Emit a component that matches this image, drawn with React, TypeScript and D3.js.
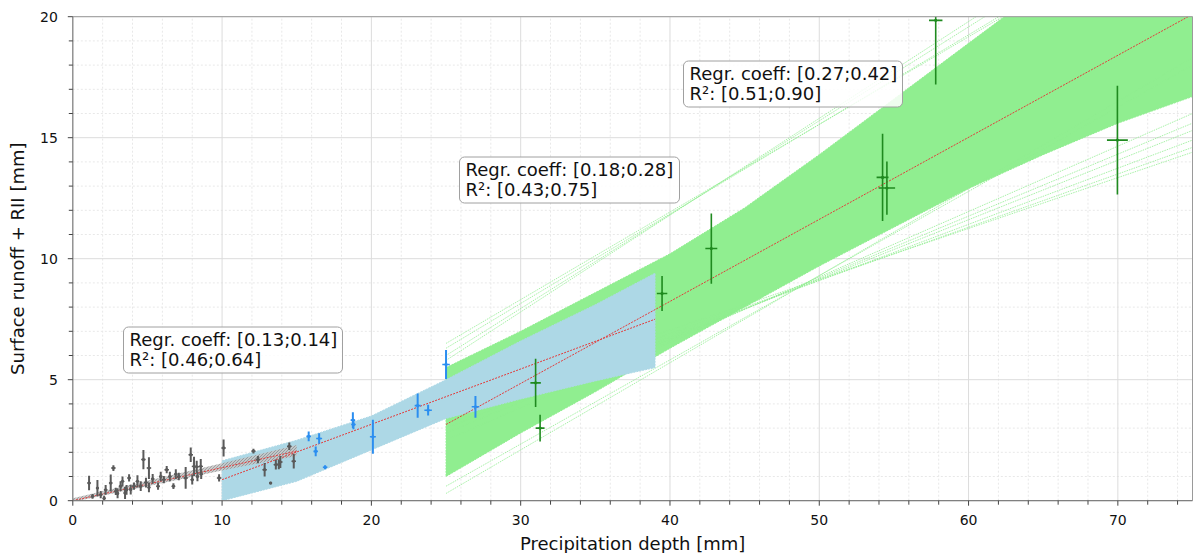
import React from "react";
import * as d3 from "d3";

// ---------- DATA ----------
const xTickValues = [0, 10, 20, 30, 40, 50, 60, 70];
const yTickValues = [0, 5, 10, 15, 20];

// gray series (small events)
const grayX = [1.09, 1.32, 1.65, 1.87, 2.1, 2.2, 2.54, 2.72, 2.88, 3.0, 3.2, 3.33, 3.5, 3.6, 3.77, 3.88, 4.1, 4.33, 4.55, 4.73, 4.9, 5.1, 5.1, 5.35, 5.71, 5.89, 6.1, 6.29, 6.5, 6.74, 6.9, 7.1, 7.56, 7.9, 8.0, 8.12, 8.3, 8.57, 8.35, 8.6, 9.8, 10.1, 12.1, 12.4, 12.85, 13.25, 13.6, 13.8, 13.9, 14.5, 14.8];
const grayY = [0.73, 0.18, 0.52, 0.25, 0.1, 0.45, 0.73, 1.35, 0.39, 0.3, 0.6, 0.8, 0.32, 0.45, 0.94, 0.46, 0.6, 0.8, 0.6, 1.7, 0.75, 1.35, 0.55, 0.9, 0.6, 1.0, 0.87, 1.28, 1.0, 0.6, 1.1, 1.0, 0.94, 1.9, 0.87, 1.42, 1.4, 1.42, 1.0, 1.1, 0.94, 2.18, 2.05, 1.7, 1.28, 0.73, 1.49, 1.5, 1.6, 2.25, 1.63];
const grayYErr = [0.3, 0.1, 0.34, 0.15, 0.1, 0.2, 0.35, 0.12, 0.15, 0.2, 0.2, 0.2, 0.25, 0.2, 0.15, 0.2, 0.15, 0.25, 0.2, 0.4, 0.2, 0.45, 0.2, 0.2, 0.15, 0.2, 0.15, 0.15, 0.2, 0.12, 0.2, 0.15, 0.45, 0.3, 0.2, 0.4, 0.25, 0.3, 0.2, 0.2, 0.15, 0.35, 0.1, 0.15, 0.28, 0.05, 0.2, 0.2, 0.25, 0.15, 0.3];
const grayXErr = [0.12, 0.1, 0.1, 0.1, 0.1, 0.12, 0.12, 0.15, 0.1, 0.1, 0.12, 0.12, 0.1, 0.1, 0.12, 0.1, 0.12, 0.12, 0.1, 0.15, 0.12, 0.15, 0.1, 0.12, 0.12, 0.12, 0.12, 0.15, 0.12, 0.12, 0.12, 0.12, 0.15, 0.15, 0.12, 0.15, 0.15, 0.15, 0.12, 0.12, 0.15, 0.15, 0.15, 0.15, 0.15, 0.1, 0.15, 0.15, 0.15, 0.15, 0.15];

// blue series (medium events)
const blueX = [15.8, 16.27, 16.5, 16.9, 18.76, 18.8, 20.1, 23.1, 23.8, 25.0, 26.97];
const blueY = [2.66, 2.04, 2.57, 1.38, 3.33, 3.15, 2.64, 3.93, 3.74, 5.63, 3.88];
const blueYErr = [0.2, 0.2, 0.22, 0.08, 0.33, 0.2, 0.7, 0.5, 0.22, 0.6, 0.45];
const blueXErr = [0.15, 0.15, 0.2, 0.15, 0.15, 0.15, 0.2, 0.2, 0.25, 0.25, 0.25];

// green series (large events)
const greenX = [31.0, 31.3, 39.47, 42.77, 54.24, 54.53, 57.8, 69.97];
const greenY = [4.87, 3.0, 8.56, 10.42, 13.36, 12.92, 19.85, 14.9];
const greenYErr = [1.0, 0.55, 0.72, 1.45, 1.8, 1.1, 2.65, 2.25];
const greenXErr = [0.35, 0.3, 0.35, 0.4, 0.4, 0.55, 0.45, 0.7];

// regression lines [x0, y0, x1, y1]
const grayFit = [0, 0, 15, 2.05];
const blueFit = [10, 0.87, 39, 7.5];
const greenFit = [25, 3.15, 75, 20.1];

// bootstrap envelopes
const grayBandX = [0, 5, 10, 15];
const grayBandUpper = [0.1, 0.82, 1.55, 2.3];
const grayBandLower = [-0.05, 0.6, 1.25, 1.85];

const blueBandX = [10, 15, 20, 25, 30, 35, 39];
const blueBandUpper = [1.65, 2.5, 3.5, 5.0, 6.6, 8.1, 9.4];
const blueBandLower = [0.0, 0.8, 2.1, 3.4, 4.2, 4.95, 5.5];

const greenBandX = [25, 30, 35, 40, 45, 50, 55, 60, 65, 70, 75];
const greenBandUpper = [5.5, 7.0, 8.6, 10.2, 12.1, 14.3, 16.6, 18.9, 21.2, 23.5, 25.8];
const greenBandLower = [1.0, 2.8, 4.5, 6.3, 8.0, 9.7, 11.3, 12.9, 14.3, 15.6, 16.7];

// sparse outlier bootstrap lines of the green fit [x0, y0, x1, y1]
const greenSparse = [
  [25, 6.3, 75, 24.8], [25, 6.0, 75, 25.4], [25, 6.5, 75, 24.6], [25, 5.8, 75, 25.8],
  [25, 3.0, 75, 15.3], [25, 3.3, 75, 14.9], [25, 3.6, 75, 14.6], [25, 2.8, 75, 15.6],
  [25, 3.9, 75, 14.4], [25, 2.5, 75, 16.0], [25, 0.3, 75, 18.3], [25, 0.6, 75, 18.0],
];

const boxLines1 = ["Regr. coeff: [0.13;0.14]", "R²: [0.46;0.64]"];
const boxLines2 = ["Regr. coeff: [0.18;0.28]", "R²: [0.43;0.75]"];
const boxLines3 = ["Regr. coeff: [0.27;0.42]", "R²: [0.51;0.90]"];

// ---------- CHART ----------
const W = 1193;
const H = 553;
const x = d3.scaleLinear().domain([0, 75]).range([72.8, 1192.5]);
const y = d3.scaleLinear().domain([0, 20]).range([500.7, 16.7]);

const FONT = "'DejaVu Sans', Verdana, sans-serif";

function bandPath(xs: number[], up: number[], lo: number[]) {
  const pts: [number, number][] = [];
  xs.forEach((v, i) => pts.push([x(v), y(up[i])]));
  for (let i = xs.length - 1; i >= 0; i--) pts.push([x(xs[i]), y(lo[i])]);
  return d3.line()(pts) + "Z";
}

function ErrorBars({ xs, ys, ye, xe, color, vw, hw }: any) {
  return (
    <g>
      {xs.map((v: number, i: number) => (
        <g key={i}>
          <line x1={x(v)} x2={x(v)} y1={y(ys[i] - ye[i])} y2={y(ys[i] + ye[i])} stroke={color} strokeWidth={vw} />
          <line x1={x(v - xe[i])} x2={x(v + xe[i])} y1={y(ys[i])} y2={y(ys[i])} stroke={color} strokeWidth={hw} />
          <circle cx={x(v)} cy={y(ys[i])} r={1.6} fill={color} />
        </g>
      ))}
    </g>
  );
}

function Box({ x0, y0, w, h, lines }: any) {
  return (
    <g>
      <rect x={x0} y={y0} width={w} height={h} rx={5} ry={5} fill="#ffffff" fillOpacity={0.85} stroke="#a0a0a0" strokeWidth={1} />
      <text x={x0 + 6} y={y0 + 19} fontFamily={FONT} fontSize={18} fill="#111">{lines[0]}</text>
      <text x={x0 + 6} y={y0 + 39} fontFamily={FONT} fontSize={18} fill="#111">{lines[1]}</text>
    </g>
  );
}

export default function App() {
  const xMinor = d3.range(0, 76, 2).filter((v) => v % 10 !== 0);
  const yMinor = d3.range(0, 21, 1).filter((v) => v % 5 !== 0);
  const [x0, x1] = x.range();
  const [y0, y1] = y.range();
  const red = "#e23b3b";

  return (
    <svg width={W} height={H} style={{ position: "absolute", left: 0, top: 0, background: "#fff" }}>
      <defs>
        <clipPath id="plot">
          <rect x={x0} y={y1} width={x1 - x0} height={y0 - y1} />
        </clipPath>
        <pattern id="hatch" width={3} height={3} patternUnits="userSpaceOnUse">
          <rect width={3} height={3} fill="#c4c4c4" />
          <path d="M0,3 L3,0" stroke="#8c8c8c" strokeWidth={0.9} />
        </pattern>
      </defs>

      {/* grid */}
      <g>
        {xMinor.map((v) => (
          <line key={"xm" + v} x1={x(v)} x2={x(v)} y1={y0} y2={y1} stroke="#e8e8e8" strokeWidth={1} strokeDasharray="2 2" />
        ))}
        {yMinor.map((v) => (
          <line key={"ym" + v} x1={x0} x2={x1} y1={y(v)} y2={y(v)} stroke="#e8e8e8" strokeWidth={1} strokeDasharray="2 2" />
        ))}
        {xTickValues.map((v) => (
          <line key={"xg" + v} x1={x(v)} x2={x(v)} y1={y0} y2={y1} stroke="#dcdcdc" strokeWidth={1} />
        ))}
        {yTickValues.map((v) => (
          <line key={"yg" + v} x1={x0} x2={x1} y1={y(v)} y2={y(v)} stroke="#dcdcdc" strokeWidth={1} />
        ))}
      </g>

      <g clipPath="url(#plot)">
        {/* green band */}
        <path d={bandPath(greenBandX, greenBandUpper, greenBandLower)} fill="#90ee90" stroke="#90ee90" strokeWidth={1} strokeDasharray="2 1" />
        {greenSparse.map((l, i) => (
          <line key={"gs" + i} x1={x(l[0])} y1={y(l[1])} x2={x(l[2])} y2={y(l[3])} stroke="#90ee90" strokeWidth={0.8} strokeDasharray="1.5 1" />
        ))}
        {/* blue band */}
        <path d={bandPath(blueBandX, blueBandUpper, blueBandLower)} fill="#add8e6" stroke="#add8e6" strokeWidth={1} strokeDasharray="2 1" />
        {/* gray band */}
        <path d={bandPath(grayBandX, grayBandUpper, grayBandLower)} fill="url(#hatch)" fillOpacity={0.85} />

        {/* regression lines */}
        {[grayFit, blueFit, greenFit].map((f, i) => (
          <line key={"fit" + i} x1={x(f[0])} y1={y(f[1])} x2={x(f[2])} y2={y(f[3])} stroke={red} strokeWidth={1} strokeDasharray="2 1.2" />
        ))}

        <ErrorBars xs={grayX} ys={grayY} ye={grayYErr} xe={grayXErr} color="#5a5a5a" vw={2} hw={1.4} />
        <ErrorBars xs={blueX} ys={blueY} ye={blueYErr} xe={blueXErr} color="#2b8ef0" vw={2} hw={1.6} />
        <ErrorBars xs={greenX} ys={greenY} ye={greenYErr} xe={greenXErr} color="#1f8a1f" vw={1.6} hw={1.6} />
      </g>

      {/* frame */}
      <line x1={x0} x2={x1} y1={y1} y2={y1} stroke="#9a9a9a" strokeWidth={1} />
      <line x1={x1} x2={x1} y1={y1} y2={y0} stroke="#9a9a9a" strokeWidth={1} />
      <line x1={x0} x2={x0} y1={y1} y2={y0} stroke="#808080" strokeWidth={1.2} />
      <line x1={x0} x2={x1} y1={y0} y2={y0} stroke="#808080" strokeWidth={1.2} />

      {/* ticks */}
      {xTickValues.map((v) => (
        <g key={"xt" + v}>
          <line x1={x(v)} x2={x(v)} y1={y0} y2={y0 + 5} stroke="#444" />
          <text x={x(v)} y={y0 + 24} textAnchor="middle" fontFamily={FONT} fontSize={14} fill="#111">{v}</text>
        </g>
      ))}
      {xMinor.map((v) => (
        <line key={"xmt" + v} x1={x(v)} x2={x(v)} y1={y0} y2={y0 + 4} stroke="#444" />
      ))}
      {yTickValues.map((v) => (
        <g key={"yt" + v}>
          <line x1={x0 - 5} x2={x0} y1={y(v)} y2={y(v)} stroke="#444" />
          <text x={x0 - 15} y={y(v) + 5} textAnchor="end" fontFamily={FONT} fontSize={14} fill="#111">{v}</text>
        </g>
      ))}
      {yMinor.map((v) => (
        <line key={"ymt" + v} x1={x0 - 4} x2={x0} y1={y(v)} y2={y(v)} stroke="#444" />
      ))}

      {/* axis titles */}
      <text x={(x0 + x1) / 2} y={550} textAnchor="middle" fontFamily={FONT} fontSize={18} fill="#111">Precipitation depth [mm]</text>
      <text transform={`translate(24, ${(y0 + y1) / 2}) rotate(-90)`} textAnchor="middle" fontFamily={FONT} fontSize={18} fill="#111">Surface runoff + RII [mm]</text>

      {/* annotation boxes */}
      <Box x0={123.5} y0={327} w={219} h={46} lines={boxLines1} />
      <Box x0={459.5} y0={157} w={220} h={46} lines={boxLines2} />
      <Box x0={683.5} y0={61} w={219} h={46} lines={boxLines3} />
    </svg>
  );
}
